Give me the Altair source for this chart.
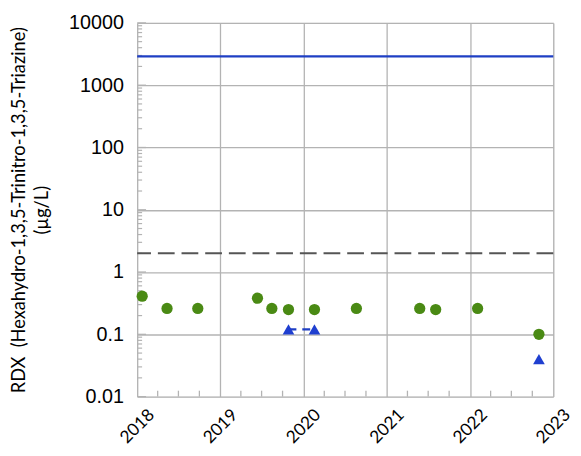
import altair as alt
import pandas as pd

# ---- data ----
dates = ["2018-01-23", "2018-05-12", "2018-09-24", "2019-06-13", "2019-08-15",
         "2019-10-27", "2020-02-18", "2020-08-20", "2021-05-25", "2021-08-03",
         "2022-02-03", "2022-10-30"]
detects = [0.41, 0.26, 0.26, 0.38, 0.26, 0.25, 0.25, 0.26, 0.26, 0.25, 0.26, 0.10]

nd_dates = ["2019-10-27", "2020-02-18", "2022-10-30"]
nd_values = [0.12, 0.12, 0.04]

connector_dates = ["2019-10-27", "2020-02-18"]
connector_values = [0.12, 0.12]

upper_limit = 2900
lower_limit = 2

year_ticks = [2018, 2019, 2020, 2021, 2022, 2023]
y_ticks = [0.01, 0.1, 1, 10, 100, 1000, 10000]
y_title = ["RDX\u00a0 (Hexahydro-1,3,5-Trinitro-1,3,5-Triazine)", "(µg/L)"]

W, H = 422, 379
GRID = "#b3b3b3"

minor_x = [f"{y}-{m:02d}-01" for y in range(2018, 2023) for m in (4, 7, 10)]
minor_y = [m * 10 ** e for e in range(-2, 4) for m in range(2, 10)]

xscale = alt.Scale(type="utc", domain=[alt.DateTime(year=2018, month=1, date=1, utc=True),
                                       alt.DateTime(year=2023, month=1, date=1, utc=True)])
yscale = alt.Scale(type="log", domain=[0.01, 10000])

x_axis = alt.Axis(
    values=[alt.DateTime(year=y, month=1, date=1, utc=True) for y in year_ticks],
    format="%Y", formatType="utc", grid=True, gridColor=GRID, gridWidth=1.3,
    ticks=False, domain=False, labelAngle=-45, labelAlign="center", labelBaseline="middle",
    labelPadding=30, labelFont="Lato", labelFontSize=17.5, labelColor="#000",
    title=None, labelOverlap=False, labelFlush=False,
)
y_axis = alt.Axis(
    values=y_ticks, format="~g", grid=True, gridColor=GRID, gridWidth=1.3,
    ticks=False, domain=False, labelFont="Liberation Sans", labelFontSize=20,
    labelColor="#000", labelPadding=14, labelOverlap=False, labelFlush=False,
    title=y_title, titleFont="Lato", titleFontSize=18.5, titleFontWeight="normal",
    titleColor="#000", titleAngle=-90, titleBaseline="top", titleAlign="center",
    titleX=-129, titleY=H / 2, titleLineHeight=23,
)

df = pd.DataFrame({"date": dates, "value": detects})
nd = pd.DataFrame({"date": nd_dates, "value": nd_values})
conn = pd.DataFrame({"date": connector_dates, "value": connector_values})

base_axes = alt.Chart(df).mark_point(opacity=0).encode(
    x=alt.X("date:T", scale=xscale, axis=x_axis),
    y=alt.Y("value:Q", scale=yscale, axis=y_axis),
)

minor_x_ticks = alt.Chart(pd.DataFrame({"date": minor_x})).mark_rule(
    color=GRID, strokeWidth=1.3).encode(
    x=alt.X("date:T", scale=xscale), y=alt.value(H), y2=alt.value(H - 6))

minor_y_ticks = alt.Chart(pd.DataFrame({"value": minor_y})).mark_rule(
    color=GRID, strokeWidth=1.2).encode(
    y=alt.Y("value:Q", scale=yscale), x=alt.value(0), x2=alt.value(5))

major_y_ticks = alt.Chart(pd.DataFrame({"value": y_ticks})).mark_rule(
    color=GRID, strokeWidth=1.3).encode(
    y=alt.Y("value:Q", scale=yscale), x=alt.value(0), x2=alt.value(9))

upper = alt.Chart(pd.DataFrame({"value": [upper_limit]})).mark_rule(
    color="#1f3fc4", strokeWidth=2.5).encode(y=alt.Y("value:Q", scale=yscale))

lower = alt.Chart(pd.DataFrame({"value": [lower_limit]})).mark_rule(
    color="#555555", strokeWidth=2, strokeDash=[17, 7]).encode(
    y=alt.Y("value:Q", scale=yscale))

connector = alt.Chart(conn).mark_line(color="#1f3fc4", strokeWidth=2.2,
                                      strokeDash=[8, 6]).encode(
    x=alt.X("date:T", scale=xscale), y=alt.Y("value:Q", scale=yscale))

points = alt.Chart(df).mark_circle(size=130, color="#4a8a14", opacity=1).encode(
    x=alt.X("date:T", scale=xscale), y=alt.Y("value:Q", scale=yscale))

tris = alt.Chart(nd).mark_point(shape="triangle-up", size=140, filled=True,
                                color="#1f3fd0", opacity=1).encode(
    x=alt.X("date:T", scale=xscale), y=alt.Y("value:Q", scale=yscale))

chart = alt.layer(base_axes, minor_x_ticks, minor_y_ticks, major_y_ticks,
                  upper, lower, connector, points, tris).properties(
    width=W, height=H,
    autosize=alt.AutoSizeParams(type="none"),
    padding={"left": 131, "top": 12, "right": 20, "bottom": 49},
).configure_view(stroke=GRID, strokeWidth=1.5).configure(background="white")

chart.save("out.html", embed_options={"renderer": "svg", "actions": False})
